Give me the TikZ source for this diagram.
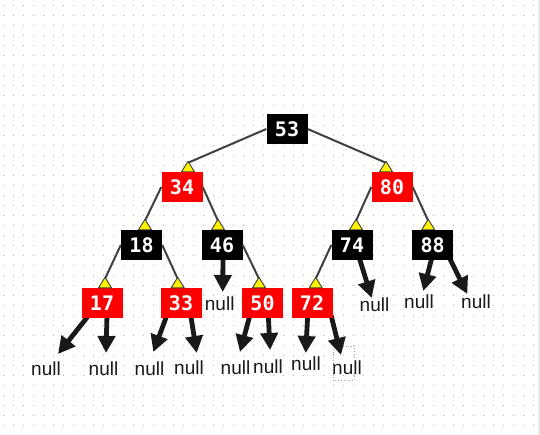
\documentclass[tikz,border=0pt]{standalone}
\usepackage{fontspec}
\setmainfont{Liberation Sans}
\newfontfamily\monofont{DejaVu Sans Mono}
\usetikzlibrary{arrows.meta,calc}
\begin{document}
\begin{tikzpicture}[x=1pt,y=-1pt,
  rbnode/.style={minimum width=41pt,minimum height=30pt,inner sep=0pt,text=white,font=\monofont\bfseries\fontsize{20}{20}\selectfont},
  redbox/.style={rbnode,fill=red},
  blackbox/.style={rbnode,fill=black},
  nulltxt/.style={inner sep=0pt,text=black!90,font=\fontsize{19}{19}\selectfont},
  treeedge/.style={draw=black!75,line width=2pt},
  nullarrow/.style={draw=black!90,line width=4.8pt,-{Triangle[length=17pt,width=17pt]}},
  marker/.style={fill=yellow,draw=black!75,line width=0.9pt,line join=round},
  ymark/.pic={\filldraw[marker] (0,-1.5) -- (-6.5,9) -- (6.5,9) -- cycle;}]
\fill[white] (0,0) rectangle (540,435);
\useasboundingbox (0,0) rectangle (540,435);
% dotted grid
\foreach \j in {0,...,42}
  \draw[gray!60,line width=1pt,dash pattern=on 1pt off 9pt] (3,5.5+10*\j) -- (540,5.5+10*\j);
\fill[black!8] (538,0) rectangle (540,435);

% tree node positions
\coordinate (p53) at (287,129);
\coordinate (p34) at (182,187);
\coordinate (p80) at (392,187);
\coordinate (p18) at (141.5,245);
\coordinate (p46) at (222,245);
\coordinate (p74) at (352,245);
\coordinate (p88) at (432.7,245);
\coordinate (p17) at (102,303);
\coordinate (p33) at (181,303);
\coordinate (p50) at (262.5,303);
\coordinate (p72) at (312,303);

% null labels
\node[nulltxt] (z1) at (46,369) {null};
\node[nulltxt] (z2) at (103.5,369) {null};
\node[nulltxt] (z3) at (149.5,369) {null};
\node[nulltxt] (z4) at (189,368) {null};
\node[nulltxt] (z5) at (219.7,304) {null};
\node[nulltxt] (z6) at (235.5,368) {null};
\node[nulltxt] (z7) at (268,367) {null};
\node[nulltxt] (z8) at (306,364) {null};
\node[nulltxt] (z9) at (347,368) {null};
\node[nulltxt] (z10) at (374.5,305) {null};
\node[nulltxt] (z11) at (419,302) {null};
\node[nulltxt] (z12) at (476,302) {null};
\draw[gray!70,line width=0.8pt,dotted] (333.7,346) rectangle (354.3,380.7);

% null arrow tips
\coordinate (a1) at (58,354);
\coordinate (a2) at (106,353);
\coordinate (a3) at (153.3,352);
\coordinate (a4) at (196.7,353);
\coordinate (a5) at (222.7,292);
\coordinate (a6) at (240,352);
\coordinate (a7) at (270,350);
\coordinate (a8) at (305.7,353);
\coordinate (a9) at (341,355);
\coordinate (a10) at (371.7,298);
\coordinate (a11) at (423.3,291);
\coordinate (a12) at (467.3,294);

\draw[nullarrow] ($(p17)+(-13,12)$) -- (a1);
\draw[nullarrow] ($(p17)+(5,12)$) -- (a2);
\draw[nullarrow] ($(p33)+(-14,12)$) -- (a3);
\draw[nullarrow] ($(p33)+(9.7,12)$) -- (a4);
\draw[nullarrow] ($(p46)+(1,12)$) -- (a5);
\draw[nullarrow] ($(p50)+(-12.5,12)$) -- (a6);
\draw[nullarrow] ($(p50)+(5.8,12)$) -- (a7);
\draw[nullarrow] ($(p72)+(-4.3,12)$) -- (a8);
\draw[nullarrow] ($(p72)+(19,12)$) -- (a9);
\draw[nullarrow] ($(p74)+(7,12)$) -- (a10);
\draw[nullarrow] ($(p88)+(-0.7,12)$) -- (a11);
\draw[nullarrow] ($(p88)+(16.3,12)$) -- (a12);

% tree nodes
\node[blackbox] (n53) at (p53) {53};
\node[redbox] (n34) at (p34) {34};
\node[redbox] (n80) at (p80) {80};
\node[blackbox] (n18) at (p18) {18};
\node[blackbox] (n46) at (p46) {46};
\node[blackbox] (n74) at (p74) {74};
\node[blackbox] (n88) at (p88) {88};
\node[redbox] (n17) at (p17) {17};
\node[redbox] (n33) at (p33) {33};
\node[redbox] (n50) at (p50) {50};
\node[redbox] (n72) at (p72) {72};

% marker apexes
\coordinate (m34) at ($(n34.north)+(6,-9)$);
\coordinate (m80) at ($(n80.north)+(-6,-9)$);
\coordinate (m18) at ($(n18.north)+(3.5,-9)$);
\coordinate (m46) at ($(n46.north)+(-4,-9)$);
\coordinate (m74) at ($(n74.north)+(4,-9)$);
\coordinate (m88) at ($(n88.north)+(-4.5,-9)$);
\coordinate (m17) at ($(n17.north)+(3,-9)$);
\coordinate (m33) at ($(n33.north)+(-3.3,-9)$);
\coordinate (m50) at ($(n50.north)+(-3.5,-9)$);
\coordinate (m72) at ($(n72.north)+(3.7,-9)$);

% tree edges
\draw[treeedge] (n53.west) -- (m34);
\draw[treeedge] (n53.east) -- (m80);
\draw[treeedge] (n34.west) -- (m18);
\draw[treeedge] (n34.east) -- (m46);
\draw[treeedge] (n80.west) -- (m74);
\draw[treeedge] (n80.east) -- (m88);
\draw[treeedge] (n18.west) -- (m17);
\draw[treeedge] (n18.east) -- (m33);
\draw[treeedge] (n46.east) -- (m50);
\draw[treeedge] (n74.west) -- (m72);

\foreach \m in {m34,m80,m18,m46,m74,m88,m17,m33,m50,m72}
  \pic at (\m) {ymark};
\end{tikzpicture}
\end{document}
